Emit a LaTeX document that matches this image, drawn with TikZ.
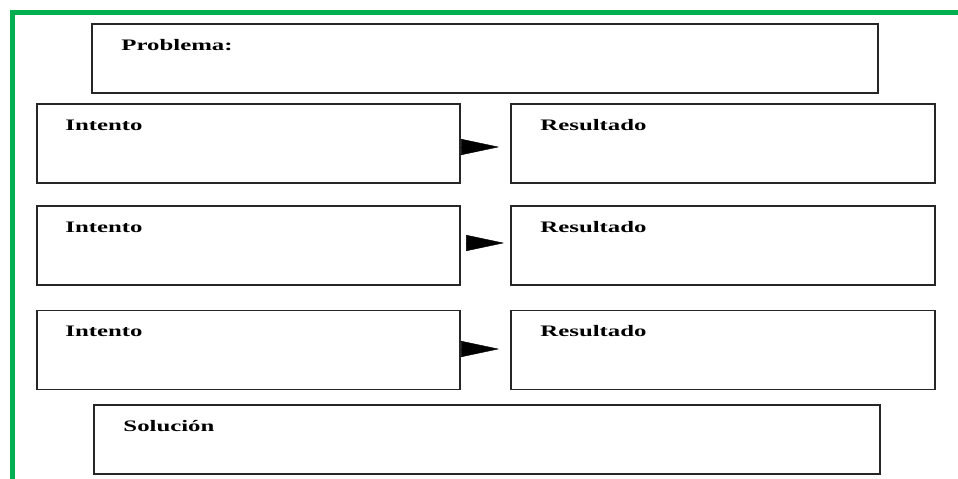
\documentclass[tikz,border=0pt]{standalone}
\usepackage{fontspec}
\setmainfont{Liberation Serif}
\usetikzlibrary{arrows.meta}
\definecolor{framegreen}{RGB}{0,176,80}
\tikzset{
	box/.style={draw=black!85, line width=1.7pt, rectangle, inner sep=0pt},
	lbl/.style={anchor=base west, inner sep=0pt, font=\fontsize{16}{19}\selectfont\bfseries, xscale=1.55, transform shape},
	arr/.style={draw=black, line width=0.4pt, -{Triangle[length=38pt,width=16pt]}}
}

\begin{document}
\begin{tikzpicture}[x=1pt, y=-1pt]
			%%%%% START %%%%%
			\useasboundingbox (0, 0) rectangle (958, 479);
			
			\draw[line width=5pt, color=framegreen] (10, 12) -- (958, 12);
			\draw[line width=5pt, color=framegreen] (12, 10) -- (12, 479);
			
			\node[box, minimum width=786pt, minimum height=69pt] (prob) at (485, 58.5) {};
			\node[lbl] at ([xshift=30pt, yshift=-27pt]prob.north west) {Problema:};
			
			\node[box, minimum width=423pt, minimum height=79pt] (int1) at (248.5, 143.5) {};
			\node[box, minimum width=424pt, minimum height=79pt] (res1) at (723, 143.5) {};
			\node[lbl] at ([xshift=29pt, yshift=-27pt]int1.north west) {Intento};
			\node[lbl] at ([xshift=30pt, yshift=-27pt]res1.north west) {Resultado};
			
			\node[box, minimum width=423pt, minimum height=79pt] (int2) at (248.5, 245.5) {};
			\node[box, minimum width=424pt, minimum height=79pt] (res2) at (723, 245.5) {};
			\node[lbl] at ([xshift=29pt, yshift=-27pt]int2.north west) {Intento};
			\node[lbl] at ([xshift=30pt, yshift=-27pt]res2.north west) {Resultado};
			
			\node[box, minimum width=423pt, minimum height=79pt] (int3) at (248.5, 350) {};
			\node[box, minimum width=424pt, minimum height=79pt] (res3) at (723, 350) {};
			\node[lbl] at ([xshift=29pt, yshift=-27pt]int3.north west) {Intento};
			\node[lbl] at ([xshift=30pt, yshift=-27pt]res3.north west) {Resultado};
			
			\node[box, minimum width=786pt, minimum height=69pt] (sol) at (487, 439.5) {};
			\node[lbl] at ([xshift=30pt, yshift=-27pt]sol.north west) {Solución};
			
			\draw[arr, shorten <=2pt, shorten >=11pt] ([yshift=-3.5pt]int1.east) -- ([yshift=-3.5pt]res1.west);
			\draw[arr, shorten <=7pt, shorten >=6pt] ([yshift=2.5pt]int2.east) -- ([yshift=2.5pt]res2.west);
			\draw[arr, shorten <=2pt, shorten >=11pt] ([yshift=1pt]int3.east) -- ([yshift=1pt]res3.west);
			%%%%% END %%%%%
\end{tikzpicture}
\end{document}
